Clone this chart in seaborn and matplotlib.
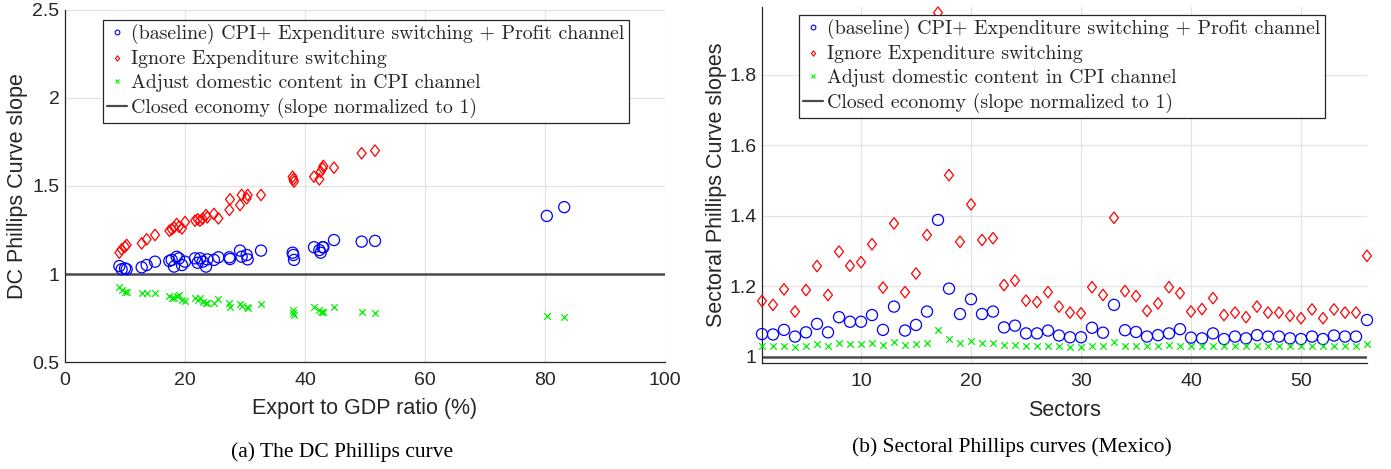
import numpy as np
import pandas as pd
import matplotlib
matplotlib.use("Agg")
import matplotlib.pyplot as plt
import seaborn as sns
from matplotlib.lines import Line2D
from matplotlib.path import Path

# ---------------- Data: panel (a) ----------------
export_gdp = [9.06, 9.44, 10.0, 10.28, 12.78, 13.61, 15.0, 17.39, 17.78, 18.17,
              18.61, 19.0, 19.5, 20.0, 21.67, 22.11, 22.5, 22.94, 23.5, 23.72,
              24.83, 25.56, 27.39, 27.5, 29.17, 29.44, 30.28, 30.44, 32.67, 37.94,
              38.06, 38.17, 41.5, 42.39, 42.61, 42.94, 43.06, 44.83, 49.44, 51.67,
              80.3, 83.2]
dc_baseline = [1.045, 1.027, 1.032, 1.027, 1.038, 1.051, 1.070, 1.074, 1.080, 1.042,
               1.098, 1.089, 1.051, 1.070, 1.089, 1.064, 1.089, 1.070, 1.042, 1.083,
               1.080, 1.095, 1.095, 1.085, 1.133, 1.098, 1.108, 1.083, 1.133, 1.121,
               1.108, 1.080, 1.152, 1.136, 1.121, 1.152, 1.152, 1.193, 1.184, 1.188,
               1.330, 1.380]
dc_ignore_es = [1.121, 1.140, 1.155, 1.165, 1.174, 1.197, 1.222, 1.246, 1.254, 1.265,
                1.284, 1.269, 1.259, 1.295, 1.303, 1.311, 1.303, 1.314, 1.335, 1.322,
                1.341, 1.316, 1.364, 1.424, 1.392, 1.449, 1.430, 1.449, 1.449, 1.553,
                1.538, 1.525, 1.553, 1.538, 1.581, 1.600, 1.614, 1.604, 1.686, 1.701,
                np.nan, np.nan]
dc_adjust = [0.924, 0.909, 0.896, 0.896, 0.890, 0.890, 0.891, 0.877, 0.866, 0.862,
             0.877, 0.881, 0.852, 0.848, 0.862, 0.852, 0.862, 0.843, 0.833, 0.837,
             0.835, 0.858, 0.833, 0.811, 0.830, 0.820, 0.814, 0.805, 0.830, 0.795,
             0.780, 0.765, 0.811, 0.795, 0.786, 0.786, 0.786, 0.814, 0.786, 0.780,
             0.763, 0.757]

# ---------------- Data: panel (b) ----------------
sectors = list(range(1, 57))
sec_baseline = [1.064, 1.063, 1.076, 1.057, 1.069, 1.093, 1.069, 1.112, 1.099, 1.099,
                1.118, 1.076, 1.142, 1.074, 1.090, 1.128, 1.388, 1.193, 1.121, 1.163,
                1.121, 1.128, 1.083, 1.088, 1.066, 1.066, 1.074, 1.060, 1.055, 1.055,
                1.082, 1.068, 1.147, 1.075, 1.070, 1.057, 1.061, 1.066, 1.078, 1.054,
                1.052, 1.066, 1.050, 1.057, 1.052, 1.061, 1.057, 1.057, 1.052, 1.050,
                1.057, 1.050, 1.060, 1.057, 1.057, 1.104]
sec_ignore_es = [1.158, 1.147, 1.191, 1.128, 1.189, 1.257, 1.175, 1.298, 1.258, 1.268,
                 1.319, 1.196, 1.378, 1.183, 1.236, 1.345, 1.976, 1.515, 1.326, 1.432,
                 1.331, 1.336, 1.203, 1.216, 1.159, 1.155, 1.183, 1.142, 1.125, 1.123,
                 1.197, 1.175, 1.394, 1.186, 1.172, 1.130, 1.151, 1.197, 1.180, 1.128,
                 1.135, 1.166, 1.118, 1.125, 1.112, 1.142, 1.125, 1.125, 1.116, 1.109,
                 1.134, 1.109, 1.134, 1.125, 1.125, 1.286]
sec_adjust = [1.030, 1.029, 1.030, 1.027, 1.031, 1.036, 1.031, 1.038, 1.035, 1.036,
              1.038, 1.032, 1.042, 1.032, 1.035, 1.040, 1.076, 1.049, 1.040, 1.044,
              1.040, 1.040, 1.032, 1.032, 1.029, 1.029, 1.030, 1.029, 1.028, 1.028,
              1.029, 1.029, 1.041, 1.029, 1.029, 1.029, 1.029, 1.032, 1.029, 1.029,
              1.029, 1.029, 1.029, 1.029, 1.029, 1.029, 1.029, 1.029, 1.029, 1.029,
              1.029, 1.029, 1.029, 1.029, 1.029, 1.036]

legend_labels = ["(baseline) CPI+ Expenditure switching + Profit channel",
                 "Ignore Expenditure switching",
                 "Adjust domestic content in CPI channel",
                 "Closed economy (slope normalized to 1)"]

left_xticks = [0, 20, 40, 60, 80, 100]
left_yticks = [0.5, 1, 1.5, 2, 2.5]
left_yticklabels = ["0.5", "1", "1.5", "2", "2.5"]
right_xticks = [10, 20, 30, 40, 50]
right_yticks = [1, 1.2, 1.4, 1.6, 1.8]
right_yticklabels = ["1", "1.2", "1.4", "1.6", "1.8"]

# ---------------- Style ----------------
sns.set_style("white")
plt.rcParams["font.family"] = ["Liberation Sans", "DejaVu Sans"]
AX = "#262626"
GRID = "#e3e3e3"
REF = "#4a4a4a"
BLUE, RED, GREEN = "#0000ff", "#ff0000", "#00ee00"
diamond = Path([(0, 1), (0.78, 0), (0, -1), (-0.78, 0), (0, 1)], closed=True)

W, H = 1391, 469
fig = plt.figure(figsize=(W / 100, H / 100), dpi=100)
ax1 = fig.add_axes([65 / W, 1 - 362 / H, 600 / W, 352 / H])
ax2 = fig.add_axes([762 / W, 1 - 363 / H, 605 / W, 356 / H])


def draw(ax, x, base, ign, adj):
    df = pd.DataFrame({"x": x, "base": base, "ign": ign, "adj": adj})
    sns.scatterplot(data=df, x="x", y="base", ax=ax, marker="o", s=64,
                    facecolor="none", edgecolor=BLUE, linewidth=0.9,
                    clip_on=False, zorder=3)
    sns.scatterplot(data=df, x="x", y="ign", ax=ax, marker=diamond, s=68,
                    facecolor="none", edgecolor=RED, linewidth=0.9,
                    clip_on=False, zorder=3)
    sns.scatterplot(data=df, x="x", y="adj", ax=ax, marker="x", s=22,
                    color=GREEN, linewidth=0.9, clip_on=False, zorder=3)
    ax.axhline(1, color=REF, lw=1.8, zorder=2)


def style(ax):
    ax.grid(True, color=GRID, lw=0.9, zorder=0)
    ax.set_axisbelow(True)
    for s in ["top", "right"]:
        ax.spines[s].set_visible(False)
    for s in ["left", "bottom"]:
        ax.spines[s].set_color(AX)
        ax.spines[s].set_linewidth(0.9)
    ax.tick_params(axis="both", direction="in", length=5, width=0.9, color=AX,
                   labelcolor=AX, labelsize=14)
    ax.tick_params(axis="x", pad=7)
    ax.tick_params(axis="y", pad=4)
    handles = [
        Line2D([], [], ls="none", marker="o", mfc="none", mec=BLUE, ms=3.4, mew=0.8),
        Line2D([], [], ls="none", marker=diamond, mfc="none", mec=RED, ms=3.8, mew=0.8),
        Line2D([], [], ls="none", marker="x", color=GREEN, ms=2.8, mew=0.8),
        Line2D([], [], color=REF, lw=1.6),
    ]
    return handles


draw(ax1, export_gdp, dc_baseline, dc_ignore_es, dc_adjust)
draw(ax2, sectors, sec_baseline, sec_ignore_es, sec_adjust)

h1 = style(ax1)
h2 = style(ax2)

ax1.set_xlim(0, 100)
ax1.set_ylim(0.5, 2.5)
ax1.set_xticks(left_xticks)
ax1.set_yticks(left_yticks)
ax1.set_yticklabels(left_yticklabels)
ax1.set_xlabel("Export to GDP ratio (%)", fontsize=15.5, color=AX)
ax1.set_ylabel("DC Phillips Curve slope", fontsize=15.5, color=AX)
ax1.xaxis.set_label_coords(0.5, (362 - 398) / 352)
ax1.yaxis.set_label_coords((28 - 65) / 600, 0.5)

ax2.set_xlim(1, 56)
ax2.set_ylim(0.982, 1.992)
ax2.set_xticks(right_xticks)
ax2.set_yticks(right_yticks)
ax2.set_yticklabels(right_yticklabels)
ax2.set_xlabel("Sectors", fontsize=15.5, color=AX)
ax2.set_ylabel("Sectoral Phillips Curve slopes", fontsize=15.5, color=AX)
ax2.xaxis.set_label_coords(0.5, (363 - 400) / 356)
ax2.yaxis.set_label_coords((727 - 762) / 605, 0.5)

leg_kw = dict(loc="upper left", borderaxespad=0, frameon=True, fancybox=False,
              framealpha=1, edgecolor=AX, handlelength=1.0, handletextpad=0.2,
              borderpad=0.22, labelspacing=0.3,
              prop={"family": "cmr10", "size": 14.3})
leg1 = ax1.legend(h1, legend_labels, bbox_to_anchor=((103 - 65) / 600, (362 - 20) / 352), **leg_kw)
leg2 = ax2.legend(h2, legend_labels, bbox_to_anchor=((799 - 762) / 605, (363 - 15) / 356), **leg_kw)
for lg in (leg1, leg2):
    lg.get_frame().set_linewidth(0.9)
    lg.set_zorder(10)

fig.text(342 / W, 1 - 452 / H, "(a) The DC Phillips curve", ha="center", va="center",
         family="Liberation Serif", fontsize=15.5, color="black")
fig.text(1012 / W, 1 - 447 / H, "(b) Sectoral Phillips curves (Mexico)", ha="center",
         va="center", family="Liberation Serif", fontsize=15.5, color="black")

fig.savefig("out.png", dpi=100)
